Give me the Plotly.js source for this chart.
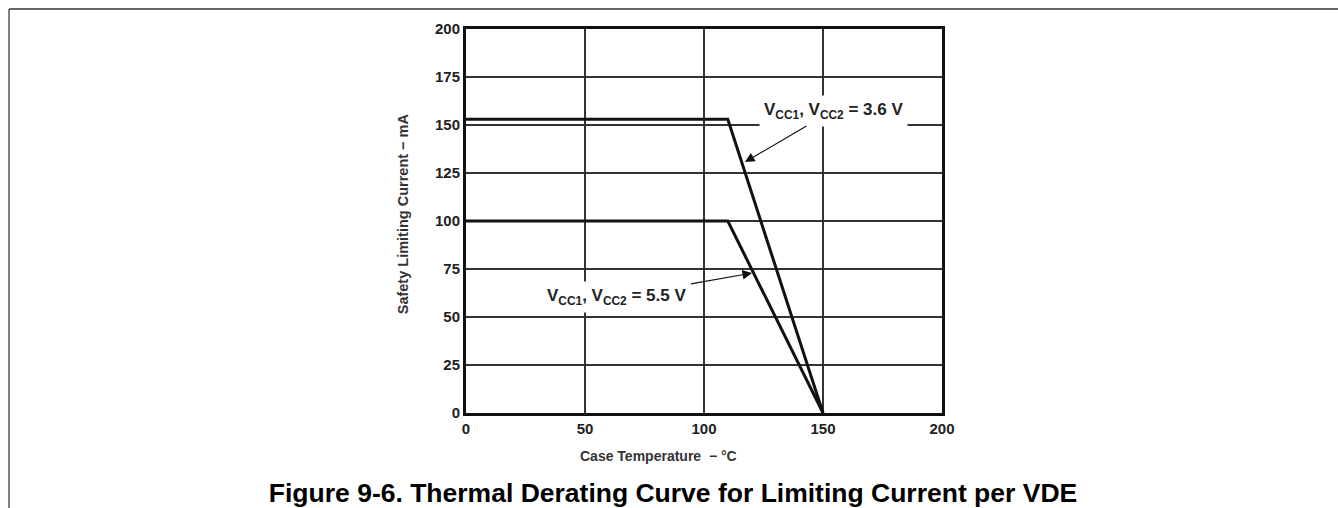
<!DOCTYPE html>
<html>
<head>
<meta charset="utf-8">
<script src="https://cdn.plot.ly/plotly-3.0.1.min.js"></script>
<style>html,body{margin:0;padding:0;background:#fff;}#chart{width:1338px;height:508px;}</style>
</head>
<body>
<div id="chart"></div>
<script>
// Case temperature (°C) breakpoints
const caseTemp = [0, 110, 150];
// Safety limiting current (mA)
const current36V = [153, 153, 0];
const current55V = [100, 100, 0];
const xTicks = [0, 50, 100, 150, 200];
const yTicks = [0, 25, 50, 75, 100, 125, 150, 175, 200];
const label36 = 'V<sub>CC1</sub>, V<sub>CC2</sub> = 3.6 V';
const label55 = 'V<sub>CC1</sub>, V<sub>CC2</sub> = 5.5 V';

const FONT = 'Liberation Sans, Arial, sans-serif';

const traces = [
  {x: caseTemp, y: current36V, mode: 'lines', line: {color: '#111', width: 3}, hoverinfo: 'skip'},
  {x: caseTemp, y: current55V, mode: 'lines', line: {color: '#111', width: 3}, hoverinfo: 'skip'}
];

const layout = {
  width: 1338, height: 508,
  margin: {l: 466, r: 396, t: 29, b: 95, pad: 0},
  paper_bgcolor: '#fff', plot_bgcolor: '#fff',
  showlegend: false,
  font: {family: FONT, color: '#111'},
  title: {
    text: '<b>Figure 9-6. Thermal Derating Curve for Limiting Current per VDE</b>',
    font: {family: FONT, size: 26.5, color: '#000'},
    x: 0.503, xref: 'container', xanchor: 'center',
    y: 0.031, yref: 'container', yanchor: 'middle'
  },
  xaxis: {
    range: [0, 200], tickvals: xTicks, ticktext: xTicks.map(v => '<b>' + v + '</b>'),
    showgrid: true, gridcolor: '#333', gridwidth: 1.3,
    showline: true, mirror: true, linecolor: '#111', linewidth: 3,
    ticks: '', zeroline: false, fixedrange: true,
    tickfont: {family: FONT, size: 15, color: '#222'}
  },
  yaxis: {
    range: [0, 200], tickvals: yTicks, ticktext: yTicks.map(v => '<b>' + v + '</b>'),
    showgrid: true, gridcolor: '#333', gridwidth: 1.3,
    showline: true, mirror: true, linecolor: '#111', linewidth: 3,
    ticks: '', zeroline: false, fixedrange: true,
    tickfont: {family: FONT, size: 15, color: '#222'}
  },
  annotations: [
    {
      text: '<b>' + label36 + '</b>', x: 117.2, y: 130.7, xref: 'x', yref: 'y',
      ax: 154.2, ay: 157.5, axref: 'x', ayref: 'y',
      showarrow: true, arrowhead: 2, arrowsize: 1.6, arrowwidth: 1.2, arrowcolor: '#111',
      bgcolor: '#fff', borderpad: 4,
      font: {family: FONT, size: 17, color: '#222'}
    },
    {
      text: '<b>' + label55 + '</b>', x: 120.2, y: 72.9, xref: 'x', yref: 'y',
      ax: 63.4, ay: 60.4, axref: 'x', ayref: 'y',
      showarrow: true, arrowhead: 2, arrowsize: 1.6, arrowwidth: 1.2, arrowcolor: '#111',
      bgcolor: '#fff', borderpad: 4,
      font: {family: FONT, size: 17, color: '#222'}
    },
    {
      text: '<b>Case Temperature  − °C</b>', x: 0.405, y: -0.112, xref: 'paper', yref: 'paper',
      xanchor: 'center', yanchor: 'middle', showarrow: false,
      font: {family: FONT, size: 14, color: '#333'}
    },
    {
      text: '<b>Safety Limiting Current − mA</b>', x: -0.132, y: 0.518, xref: 'paper', yref: 'paper',
      xanchor: 'center', yanchor: 'middle', showarrow: false, textangle: -90,
      font: {family: FONT, size: 14.5, color: '#333'}
    }
  ],
  shapes: [
    {type: 'line', xref: 'paper', yref: 'paper', x0: -0.960, x1: 1.84, y0: 1.052, y1: 1.052,
     line: {color: '#333', width: 1.5}},
    {type: 'line', xref: 'paper', yref: 'paper', x0: -0.960, x1: -0.960, y0: 1.052, y1: -0.26,
     line: {color: '#555', width: 1.5}}
  ]
};

Plotly.newPlot('chart', traces, layout, {displayModeBar: false, staticPlot: true});
</script>
</body>
</html>
